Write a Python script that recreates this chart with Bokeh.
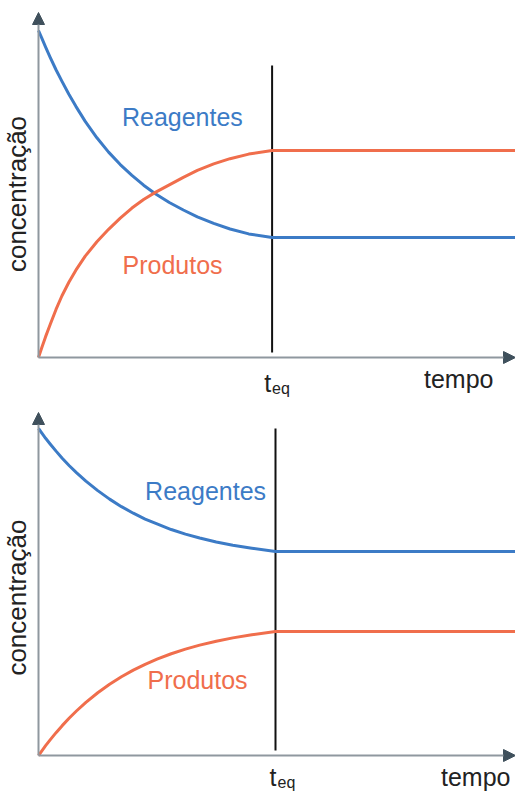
import math
from bokeh.plotting import figure
from bokeh.models import Range1d, Arrow, NormalHead, Label
from bokeh.layouts import column
from bokeh.embed import file_html
from bokeh.resources import INLINE

# ---------------- data ----------------
# time in units of t_eq (t_eq = 1), concentration normalised to the initial reagent level
t_top = [0, 0.015, 0.03, 0.05, 0.075, 0.1, 0.13, 0.16, 0.2, 0.25, 0.3, 0.35, 0.4, 0.45,
         0.5, 0.56, 0.62, 0.68, 0.75, 0.82, 0.9, 1.0, 2.05]
reagentes_top = [1.0, 0.975, 0.950, 0.918, 0.880, 0.845, 0.805, 0.768, 0.722, 0.672, 0.628,
                 0.590, 0.557, 0.527, 0.501, 0.474, 0.451, 0.430, 0.410, 0.393, 0.378, 0.367, 0.367]
produtos_top = [0.0, 0.032, 0.063, 0.101, 0.147, 0.188, 0.230, 0.267, 0.310, 0.354, 0.392,
                0.426, 0.457, 0.483, 0.505, 0.528, 0.551, 0.572, 0.592, 0.608, 0.622, 0.633, 0.633]

t_bot = [0, 0.015, 0.03, 0.05, 0.075, 0.1, 0.13, 0.16, 0.2, 0.25, 0.3, 0.35, 0.4, 0.45,
         0.5, 0.56, 0.62, 0.68, 0.75, 0.82, 0.9, 1.0, 2.05]
reagentes_bot = [1.0, 0.985, 0.970, 0.952, 0.930, 0.909, 0.886, 0.865, 0.839, 0.810, 0.784,
                 0.761, 0.741, 0.723, 0.708, 0.691, 0.677, 0.665, 0.653, 0.643, 0.634, 0.624, 0.624]
produtos_bot = [0.0, 0.015, 0.030, 0.0485, 0.0706, 0.0913, 0.1146, 0.1361, 0.1625, 0.1919, 0.2178,
                0.2408, 0.261, 0.2788, 0.2946, 0.3111, 0.3253, 0.3375, 0.3496, 0.3597, 0.3694, 0.379, 0.379]

t_eq = 1.0
series_names = ["Reagentes", "Produtos"]
x_label = "tempo"
y_label = "concentração"

# ---------------- style ----------------
BLUE = "#3c7bc6"
ORANGE = "#f06e4c"
AXIS = "#8f989f"
HEAD = "#3f505c"
TXT = "#222222"
FONT = "Liberation Sans"
LIFT = 9  # px, raise horizontal texts


def panel(width, height, x0_px, xeq_px, y0_px, unit_px, t, reag, prod,
          reag_lbl, prod_lbl, vline_top, ylab_c, teq_dx, tempo_px, teq_lift=0):
    upx = xeq_px - x0_px
    xs = -x0_px / upx
    xe = (width - x0_px) / upx
    ys = -(height - y0_px) / unit_px
    ye = y0_px / unit_px
    p = figure(width=width, height=height, x_range=Range1d(xs, xe), y_range=Range1d(ys, ye),
               x_axis_type=None, y_axis_type=None, toolbar_location=None,
               output_backend="svg", min_border=0, outline_line_color=None)
    p.grid.visible = False
    px = 1.0 / unit_px  # one pixel in concentration units
    lift = LIFT * px

    # axes as arrows
    p.add_layout(Arrow(end=NormalHead(size=12, fill_color=HEAD, line_color=HEAD),
                       x_start=0, y_start=0, x_end=xe, y_end=0,
                       line_color=AXIS, line_width=2))
    p.add_layout(Arrow(end=NormalHead(size=12, fill_color=HEAD, line_color=HEAD),
                       x_start=0, y_start=0, x_end=0, y_end=ye - 12 * px,
                       line_color=AXIS, line_width=2))

    # equilibrium line
    p.segment(x0=[t_eq], y0=[5 * px], x1=[t_eq], y1=[vline_top],
              line_color="#111111", line_width=2)

    p.line(t, reag, line_color=BLUE, line_width=3, line_join="round")
    p.line(t, prod, line_color=ORANGE, line_width=3, line_join="round")

    p.add_layout(Label(x=reag_lbl[0], y=reag_lbl[1] + lift, text=series_names[0], text_color=BLUE,
                       text_font=FONT, text_font_size="25px", text_align="center",
                       text_baseline="alphabetic"))
    p.add_layout(Label(x=prod_lbl[0], y=prod_lbl[1] + lift, text=series_names[1], text_color=ORANGE,
                       text_font=FONT, text_font_size="25px", text_align="center",
                       text_baseline="alphabetic"))

    # t_eq tick label
    tl = lift + teq_lift * px
    p.add_layout(Label(x=t_eq, y=-34 * px + tl, x_offset=teq_dx, text="t", text_color=TXT,
                       text_font=FONT, text_font_size="25px", text_align="right",
                       text_baseline="alphabetic"))
    p.add_layout(Label(x=t_eq, y=-40 * px + tl, x_offset=teq_dx + 1, text="eq", text_color=TXT,
                       text_font=FONT, text_font_size="16px", text_align="left",
                       text_baseline="alphabetic"))
    # axis titles
    p.add_layout(Label(x=(tempo_px - x0_px) / upx, y=-30 * px + lift,
                       text=x_label, text_color=TXT,
                       text_font=FONT, text_font_size="25px", text_align="right",
                       text_baseline="alphabetic"))
    p.add_layout(Label(x=-22 / upx, y=ylab_c, text=y_label, text_color=TXT,
                       text_font=FONT, text_font_size="26px", text_align="center",
                       text_baseline="alphabetic", angle=math.pi / 2))
    return p


p1 = panel(515, 400, 38, 271.6, 357, 327, t_top, reagentes_top, produtos_top,
           (0.616, 0.709), (0.574, 0.254), 0.893, 0.50, -1, 493)
p2 = panel(515, 392, 38, 275, 355, 327, t_bot, reagentes_bot, produtos_bot,
           (0.705, 0.780), (0.671, 0.202), 1.0, 0.483, 1, 510, teq_lift=4)

layout = column(p1, p2, spacing=0)

open("out.html", "w").write(file_html(layout, INLINE))
